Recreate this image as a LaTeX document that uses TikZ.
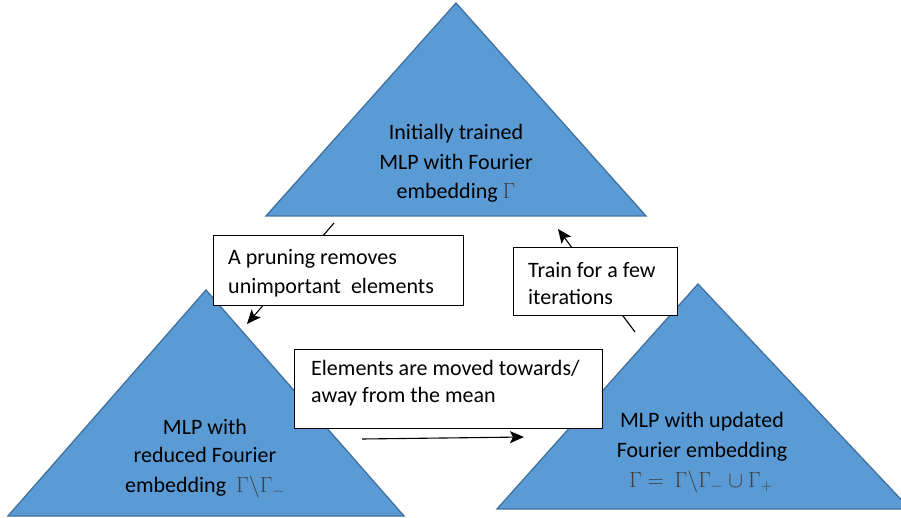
\RequirePackage{fix-cm}
\documentclass[tikz,border=0pt]{standalone}
\usepackage[no-math]{fontspec}
\setmainfont{Carlito}
\usetikzlibrary{arrows.meta}
\definecolor{triFill}{HTML}{5B9BD5}
\definecolor{triEdge}{HTML}{41719C}
\definecolor{gamGray}{HTML}{404040}
\newcommand{\gmath}[1]{\textcolor{gamGray}{$#1$}}
\begin{document}
\begin{tikzpicture}[x=1pt,y=-1pt,
  tri/.style={fill=triFill,draw=triEdge,line width=1.3pt,line join=miter},
  lbl/.style={font=\fontsize{22}{29}\selectfont,inner sep=0pt,anchor=base},
  boxnode/.style={draw=black,fill=white,line width=1.4pt,rectangle,inner sep=0pt,anchor=north west},
  boxtext/.style={font=\fontsize{22}{29}\selectfont,inner sep=0pt,anchor=base west},
  conn/.style={line width=1.1pt,-{Stealth[length=14pt,width=12pt,inset=3pt]}}
]
\useasboundingbox (0,0) rectangle (901,518);

% triangles
\coordinate (topA) at (456,3);
\coordinate (topL) at (266,216);
\coordinate (topR) at (646,216);
\coordinate (blA) at (206,290);
\coordinate (blL) at (8,516);
\coordinate (blR) at (404,516);
\coordinate (brA) at (698,284);
\coordinate (brL) at (497,509);
\coordinate (brR) at (910,509);
\draw[tri] (topA) -- (topL) -- (topR) -- cycle;
\draw[tri] (blA) -- (blL) -- (blR) -- cycle;
\draw[tri] (brA) -- (brL) -- (brR) -- cycle;

% connectors
\coordinate (pruneStart) at (334,223);
\coordinate (pruneEnd) at (247,324);
\coordinate (trainStart) at (635,332);
\coordinate (trainEnd) at (558,229);
\coordinate (moveStart) at (362,439);
\coordinate (moveEnd) at (524,437);
\draw[conn] (pruneStart) -- (pruneEnd);
\draw[conn] (trainStart) -- (trainEnd);
\draw[conn] (moveStart) -- (moveEnd);

% boxes
\node[boxnode,minimum width=250pt,minimum height=70pt] (pruneBox) at (213,235) {};
\node[boxnode,minimum width=164pt,minimum height=68pt] (trainBox) at (513,247) {};
\node[boxnode,minimum width=308pt,minimum height=79pt] (moveBox) at (294,349) {};

\node[boxtext] (pruneA) at (228,265) {A pruning removes};
\node[boxtext] (pruneB) at (228,294) {unimportant\ \ elements};
\node[boxtext] (trainA) at (528,277) {Train for a few};
\node[boxtext] (trainB) at (528,305) {iterations};
\node[boxtext] (moveA) at (311,375) {Elements are moved towards/};
\node[boxtext] (moveB) at (311,402) {away from the mean};

% triangle labels
\node[lbl] (topT1) at (456,140) {Initially trained};
\node[lbl] (topT2) at (456,170) {MLP with Fourier};
\node[lbl] (topT3) at (456,199) {embedding \gmath{\Gamma}};

\node[lbl] (blT1) at (205,434) {MLP with};
\node[lbl] (blT2) at (205,462) {reduced Fourier};
\node[lbl] (blT3) at (205,492) {embedding\ \ \gmath{\Gamma\backslash\Gamma_{-}}};

\node[lbl] (brT1) at (702,427) {MLP with updated};
\node[lbl] (brT2) at (702,457) {Fourier embedding};
\node[lbl] (brT3) at (701,487) {\gmath{\Gamma =\ \Gamma\backslash\Gamma_{-} \cup \Gamma_{+}}};
\end{tikzpicture}
\end{document}
